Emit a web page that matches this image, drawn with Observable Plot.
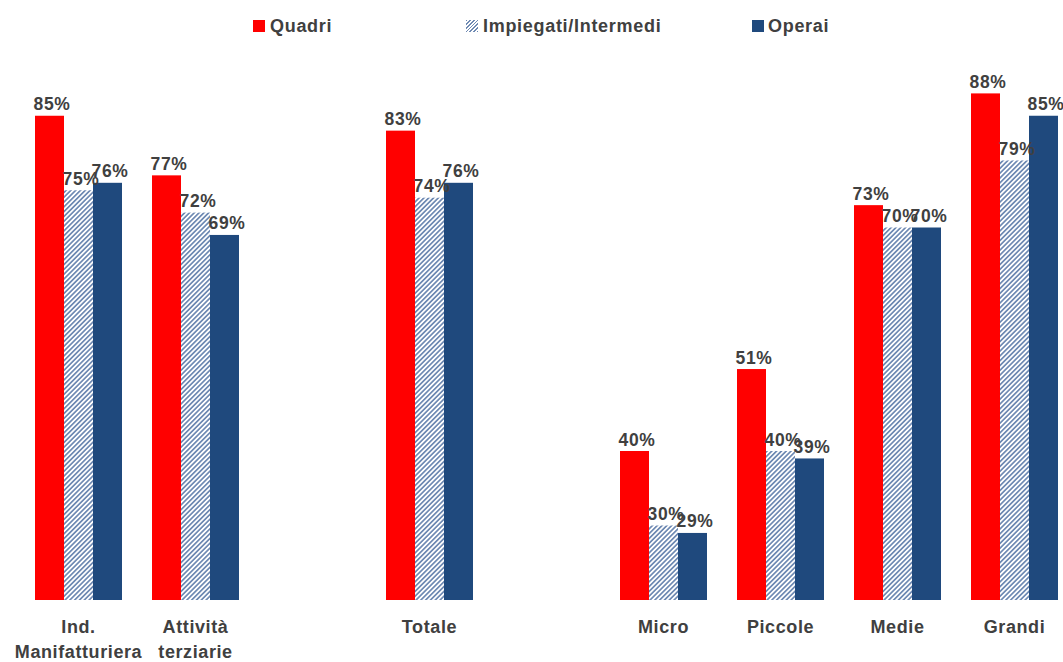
<!DOCTYPE html>
<html><head><meta charset="utf-8">
<script src="https://cdn.jsdelivr.net/npm/d3@7"></script>
<script src="https://cdn.jsdelivr.net/npm/@observablehq/plot@0.6"></script>
<style>
body{margin:0;background:#fff;font-family:"Liberation Sans",Arial,sans-serif;}
#wrap{position:relative;width:1063px;height:662px;}
#legend{position:absolute;left:0;top:0;width:1063px;height:50px;pointer-events:none;}
.sw{position:absolute;top:20px;width:12px;height:12px;}
.lt{position:absolute;top:17px;font-size:18px;line-height:18px;font-weight:bold;color:#404040;letter-spacing:0.7px;white-space:nowrap;}
</style></head><body>
<div id="wrap"><div id="chart"></div><div id="legend"></div></div>
<script>
// ---- data ----
const categories = ["Ind.\nManifatturiera", "Attività\nterziarie", "Totale", "Micro", "Piccole", "Medie", "Grandi"];
const slots = [categories[0], categories[1], "gap1", categories[2], "gap2", categories[3], categories[4], categories[5], categories[6]];
const series = ["Quadri", "Impiegati/Intermedi", "Operai"];
const quadri = [85, 77, 83, 40, 51, 73, 88];
const impiegati = [75, 72, 74, 30, 40, 70, 79];
const operai = [76, 69, 76, 29, 39, 70, 85];
const yMin = 20, yMax = 100;
const colors = ["#FF0000", "url(#hatch)", "#1F497D"];

const values = [quadri, impiegati, operai];
const data = [];
categories.forEach((c, i) => series.forEach((s, j) => data.push({cat: c, series: s, value: values[j][i]})));

const chart = Plot.plot({
  width: 1063,
  height: 662,
  marginTop: 4,
  marginBottom: 62,
  marginLeft: 0,
  marginRight: 0,
  style: {background: "white", fontFamily: "'Liberation Sans', Arial, sans-serif", overflow: "visible"},
  fx: {domain: slots, range: [18.4, 1072.8], paddingInner: 0.25, paddingOuter: 0.125, axis: null},
  x: {domain: series, padding: 0, axis: null},
  y: {domain: [yMin, yMax], axis: null},
  color: {domain: series, range: colors},
  marks: [
    Plot.barY(data, {fx: "cat", x: "series", y1: yMin, y2: "value", fill: "series", inset: 0}),
    Plot.text(data, {fx: "cat", x: "series", y: "value", text: d => d.value + "%", lineAnchor: "bottom", dy: -6, dx: 2,
      fontSize: 17.5, fontWeight: "bold", fill: "#404040"}),
    Plot.text(categories, {fx: d => d, y: yMin, text: d => d, lineAnchor: "top", dy: 15, lineHeight: 1.39,
      fontSize: 18, fontWeight: "bold", fill: "#404040", frameAnchor: "middle"})
  ]
});

const svg = d3.select(chart);
const defs = svg.insert("defs", ":first-child");
const pat = defs.append("pattern").attr("id", "hatch").attr("patternUnits", "userSpaceOnUse")
  .attr("width", 3.4).attr("height", 3.4).attr("patternTransform", "rotate(45)");
pat.append("rect").attr("width", 3.4).attr("height", 3.4).attr("fill", "#fff");
pat.append("rect").attr("width", 1.7).attr("height", 3.4).attr("fill", "#6F8AB3");
svg.selectAll("text").style("letter-spacing", "0.6px");
document.getElementById("chart").appendChild(chart);

// legend
const legendPos = [[253, 270], [466, 483], [752, 768]];
const lg = document.getElementById("legend");
series.forEach((s, i) => {
  const sw = document.createElement("div");
  sw.className = "sw";
  sw.style.left = legendPos[i][0] + "px";
  sw.style.background = i === 1 ? "repeating-linear-gradient(135deg, #6F8AB3 0 1.3px, #fff 1.3px 2.6px)" : colors[i];
  lg.appendChild(sw);
  const t = document.createElement("div");
  t.className = "lt";
  t.style.left = legendPos[i][1] + "px";
  t.textContent = s;
  lg.appendChild(t);
});
</script>
</body></html>
